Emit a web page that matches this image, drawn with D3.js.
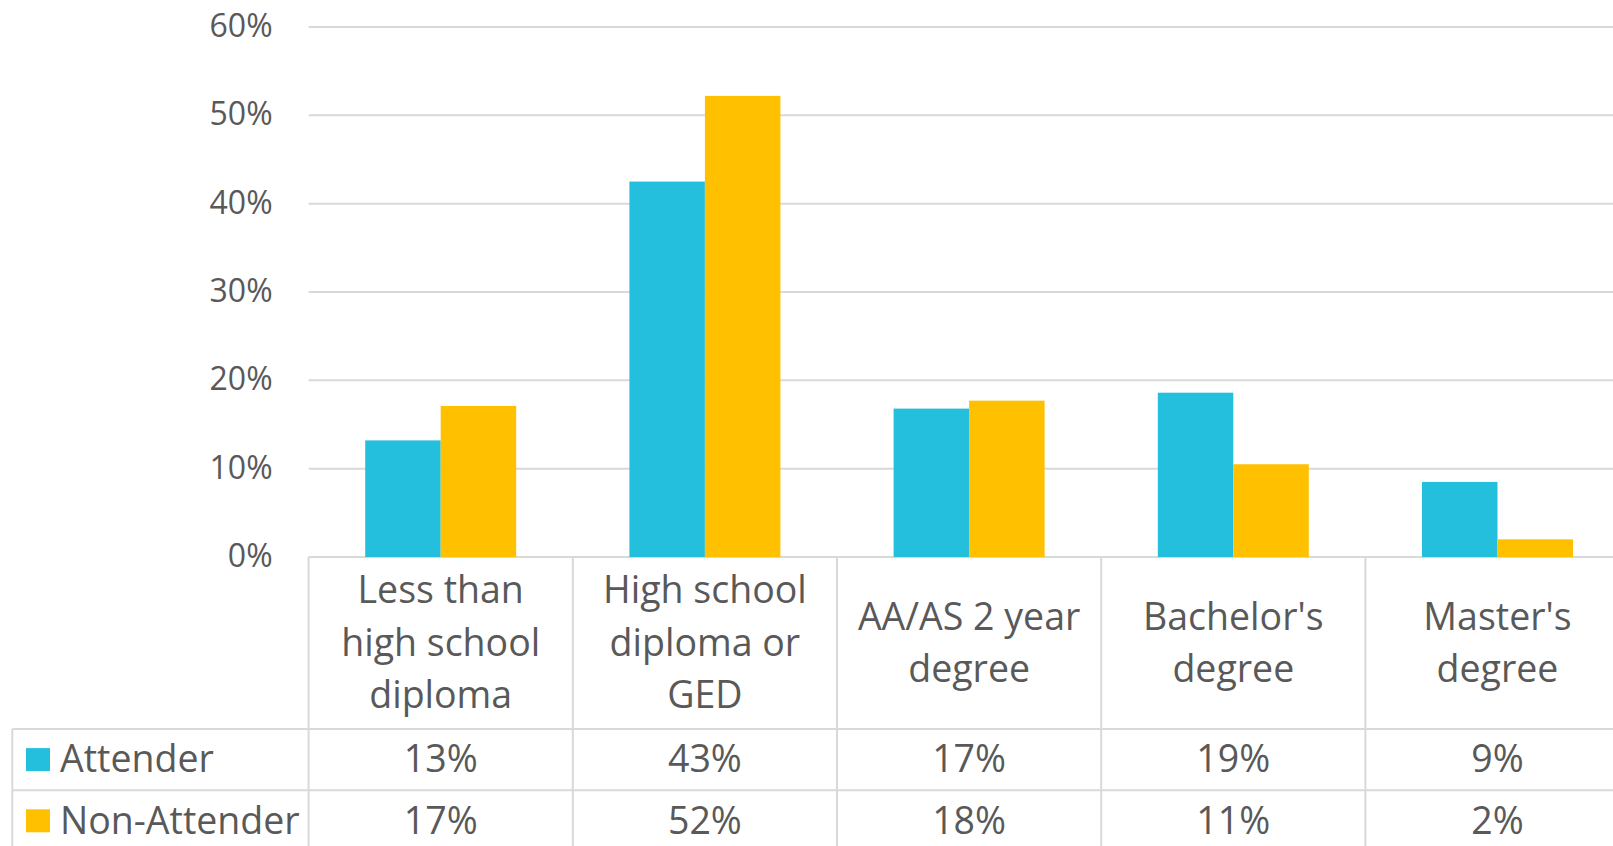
<!DOCTYPE html>
<html>
<head>
<meta charset="utf-8">
<script src="https://cdn.jsdelivr.net/npm/d3@7"></script>
<style>
  html, body { margin: 0; padding: 0; background: #fff; overflow: hidden; }
  svg { display: block; }
  text { font-family: "Open Sans", "Noto Sans", sans-serif; fill: #595959; }
</style>
</head>
<body>
<svg id="chart"></svg>
<script>
// Education level by attendance group (percent of respondents)
const categories = [
  "Less than high school diploma",
  "High school diploma or GED",
  "AA/AS 2 year degree",
  "Bachelor's degree",
  "Master's degree"
];
const categoryLines = [
  ["Less than", "high school", "diploma"],
  ["High school", "diploma or", "GED"],
  ["AA/AS 2 year", "degree"],
  ["Bachelor's", "degree"],
  ["Master's", "degree"]
];
const seriesNames = ["Attender", "Non-Attender"];
const attender = [13.2, 42.5, 16.8, 18.6, 8.5];
const nonAttender = [17.1, 52.2, 17.7, 10.5, 2.0];
const seriesValues = [attender, nonAttender];
const seriesColors = ["#23BFDD", "#FFC000"];
const yTicks = [0, 10, 20, 30, 40, 50, 60];

const W = 1613, H = 846;
const plotLeft = 308.6, catStep = 264.2;
const plotTop = 27, plotBottom = 557;
const headerBottom = 729, rowH = 61.2;
const tableLeft = 12.3;
const gridColor = "#D9D9D9";
const tableFont = "37.5px";

const svg = d3.select("#chart").attr("width", W).attr("height", H);

const x0 = d3.scaleBand()
  .domain(categories)
  .range([plotLeft, plotLeft + catStep * categories.length])
  .paddingInner(3 / 7)
  .paddingOuter(3 / 14);
const x1 = d3.scaleBand().domain(seriesNames).range([0, x0.bandwidth()]);
const y = d3.scaleLinear().domain([0, 60]).range([plotBottom, plotTop]);

// horizontal gridlines
svg.append("g").selectAll("line").data(yTicks).join("line")
  .attr("x1", plotLeft).attr("x2", W + 40)
  .attr("y1", d => y(d)).attr("y2", d => y(d))
  .attr("stroke", gridColor).attr("stroke-width", 2);

// y axis labels
const yAxis = svg.append("g")
  .attr("transform", `translate(${plotLeft},0)`)
  .call(d3.axisLeft(y).tickValues(yTicks).tickFormat(d => d + "%").tickSize(0).tickPadding(36));
yAxis.select(".domain").remove();
yAxis.selectAll("text")
  .attr("font-family", null)
  .style("font-size", "32px")
  .attr("dy", "0.3em");

// bars
const groups = svg.append("g").selectAll("g").data(categories).join("g")
  .attr("transform", d => `translate(${x0(d)},0)`);
groups.selectAll("rect")
  .data((c, i) => seriesNames.map((s, k) => ({ s, k, v: seriesValues[k][i] })))
  .join("rect")
  .attr("x", d => x1(d.s))
  .attr("width", x1.bandwidth())
  .attr("y", d => y(d.v))
  .attr("height", d => y(0) - y(d.v))
  .attr("fill", d => seriesColors[d.k]);

// data table grid
const table = svg.append("g").attr("stroke", gridColor).attr("stroke-width", 2);
const colEdges = d3.range(categories.length + 1).map(i => plotLeft + i * catStep);
table.selectAll("line.v").data(colEdges).join("line")
  .attr("x1", d => d).attr("x2", d => d)
  .attr("y1", plotBottom).attr("y2", H + 10);
table.append("line")
  .attr("x1", tableLeft).attr("x2", tableLeft)
  .attr("y1", headerBottom).attr("y2", H + 10);
[headerBottom, headerBottom + rowH].forEach(yy => {
  table.append("line").attr("x1", tableLeft).attr("x2", W + 40)
    .attr("y1", yy).attr("y2", yy);
});

// category header labels
const lineH = 52.5;
const headerMid = (plotBottom + headerBottom) / 2;
const headers = svg.append("g").selectAll("text").data(categories).join("text")
  .attr("text-anchor", "middle")
  .style("font-size", tableFont)
  .attr("transform", d => `translate(${x0(d) + x0.bandwidth() / 2},0)`);
headers.each(function (d, i) {
  const lines = categoryLines[i];
  const start = headerMid - (lines.length - 1) * lineH / 2;
  d3.select(this).selectAll("tspan").data(lines).join("tspan")
    .attr("x", 0)
    .attr("y", (l, j) => start + j * lineH)
    .attr("dy", "0.34em")
    .text(l => l);
});

// table rows: legend key + values
seriesNames.forEach((name, k) => {
  const rowMid = headerBottom + rowH * k + rowH / 2;
  svg.append("rect")
    .attr("x", 26).attr("y", rowMid - 11.5)
    .attr("width", 24).attr("height", 23)
    .attr("fill", seriesColors[k]);
  svg.append("text")
    .attr("x", 60).attr("y", rowMid).attr("dy", "0.34em")
    .style("font-size", tableFont)
    .text(name);
  svg.append("g").selectAll("text").data(categories).join("text")
    .attr("x", d => x0(d) + x0.bandwidth() / 2)
    .attr("y", rowMid).attr("dy", "0.34em")
    .attr("text-anchor", "middle")
    .style("font-size", tableFont)
    .text((d, i) => Math.round(seriesValues[k][i]) + "%");
});
</script>
</body>
</html>
